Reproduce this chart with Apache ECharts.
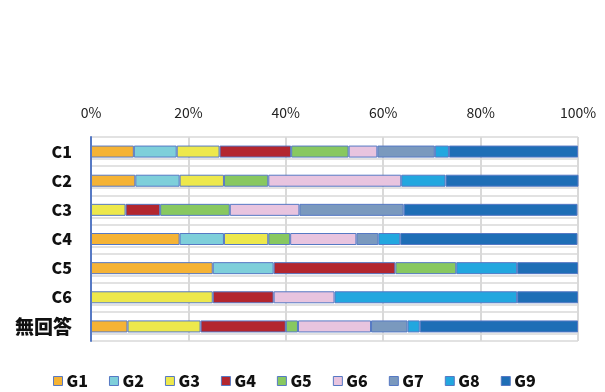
<!DOCTYPE html>
<html>
<head>
<meta charset="utf-8">
<script src="https://cdn.jsdelivr.net/npm/echarts@6/dist/echarts.min.js"></script>
<style>
    html, body { margin: 0; padding: 0; background: #fff; }
    #chart { width: 605px; height: 392px; }
</style>
</head>
<body>
<div id="chart"></div>
<script>
const categories = ['C1', 'C2', 'C3', 'C4', 'C5', 'C6', '無回答'];
const groupNames = ['G1', 'G2', 'G3', 'G4', 'G5', 'G6', 'G7', 'G8', 'G9'];
const tickLabels = ['0%', '20%', '40%', '60%', '80%', '100%'];

// share of each group per category (%)
const g1 = [8.8, 9.1, 0, 18.2, 25, 0, 7.5];
const g2 = [8.8, 9.1, 0, 9.1, 12.5, 0, 0];
const g3 = [8.8, 9.1, 7.1, 9.1, 0, 25, 15];
const g4 = [14.7, 0, 7.1, 0, 25, 12.5, 17.5];
const g5 = [11.8, 9.1, 14.3, 4.5, 12.5, 0, 2.5];
const g6 = [5.9, 27.3, 14.3, 13.6, 0, 12.5, 15];
const g7 = [11.8, 0, 21.4, 4.5, 0, 0, 7.5];
const g8 = [2.9, 9.1, 0, 4.5, 12.5, 37.5, 2.5];
const g9 = [26.5, 27.3, 35.7, 36.4, 12.5, 12.5, 32.5];

const groupData = [g1, g2, g3, g4, g5, g6, g7, g8, g9];
const colors = ['#F5B335', '#7ECFDA', '#EDE84C', '#B3262F', '#88C860', '#E8C4DF', '#7A99BE', '#22A7DF', '#1E6EB6'];

const series = [];
for (var i = 0; i < groupNames.length; i++) {
    series.push({
        name: groupNames[i],
        type: 'bar',
        stack: 'total',
        barWidth: 12,
        // empty segments are left out so no stray border is drawn
        data: groupData[i].map((v) => (v === 0 ? '-' : v)),
        itemStyle: {
            color: colors[i],
            borderColor: '#5679C4',
            borderWidth: 1
        },
        emphasis: { disabled: true }
    });
}

const chart = echarts.init(document.getElementById('chart'));
chart.setOption({
    animation: false,
    textStyle: { fontFamily: '"Noto Sans CJK JP", "Noto Sans", sans-serif' },
    color: colors,
    grid: [
        { left: 91, right: 27, top: 137, bottom: 51 },
        // second set of faint rules that sit just under each bar
        { left: 91, right: 27, top: 159, bottom: 58 }
    ],
    legend: {
        top: 368,
        left: 48,
        itemWidth: 9,
        itemHeight: 9,
        itemGap: 21,
        icon: 'rect',
        itemStyle: { borderColor: '#5679C4', borderWidth: 1 },
        textStyle: { fontSize: 16, fontWeight: 900, color: '#111', padding: [0, 0, 0, -1] },
        data: groupNames
    },
    xAxis: [
        {
            type: 'value',
            position: 'top',
            min: 0,
            max: 100,
            interval: 20,
            axisLine: { show: false },
            axisTick: { show: false },
            axisLabel: {
                margin: 17,
                fontSize: 14,
                color: '#222',
                formatter: (v) => tickLabels[v / 20]
            },
            splitLine: { lineStyle: { color: '#d9d9d9', width: 2 } }
        },
        {
            type: 'value',
            gridIndex: 1,
            min: 0,
            max: 100,
            show: false
        }
    ],
    yAxis: [
        {
            type: 'category',
            inverse: true,
            data: categories,
            axisLine: { lineStyle: { color: '#5679C4', width: 2 } },
            axisTick: { show: false },
            axisLabel: {
                margin: 19,
                fontSize: 16,
                fontWeight: 900,
                color: '#111',
                formatter: (v) => (/^[\x00-\x7f]+$/.test(v) ? v : '{j|' + v + '}'),
                rich: {
                    j: { fontSize: 19, fontWeight: 900, color: '#111' }
                }
            },
            splitLine: { show: true, lineStyle: { color: '#d9d9d9', width: 1.5 } }
        },
        {
            type: 'value',
            gridIndex: 1,
            min: 0,
            max: 6,
            interval: 1,
            axisLine: { show: false },
            axisTick: { show: false },
            axisLabel: { show: false },
            splitLine: { show: true, lineStyle: { color: '#d9d9d9', width: 1.5 } }
        }
    ],
    series: series
});

window.addEventListener('resize', () => {
    chart.resize();
});
</script>
</body>
</html>
